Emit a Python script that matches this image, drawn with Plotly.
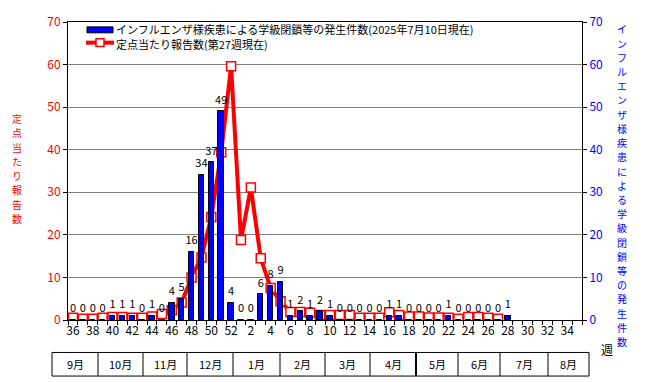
import plotly.graph_objects as go

# ---- data ----
weeks = [str(w) for w in list(range(36, 53)) + list(range(1, 36))]
closures = [0, 0, 0, 0, 1, 1, 1, 0, 1, 0, 4, 5, 16, 34, 37, 49, 4,
            0, 0, 6, 8, 9, 1, 2, 1, 2, 1, 0, 0, 0, 0, 0, 1, 1, 0, 0, 0, 0,
            1, 0, 0, 0, 0, 0, 1,
            None, None, None, None, None, None, None]
per_sentinel = [0.5, 0.3, 0.3, 0.5, 0.7, 0.7, 0.5, 0.5, 0.8, 1.4, 2.3, 4.1, 10.0,
                14.7, 24.2, 39.4, 59.6,
                18.8, 31.1, 14.5, 7.5, 4.4, 1.9, 1.9, 1.7, 1.2, 1.2, 1.2, 1.2,
                0.55, 0.55, 0.55, 1.8, 1.2, 0.8, 0.8, 0.6, 0.6, 0.55, 0.3, 0.7,
                0.7, 0.5, 0.3,
                None, None, None, None, None, None, None, None]
months = ["9月", "10月", "11月", "12月", "1月", "2月", "3月", "4月",
          "5月", "6月", "7月", "8月"]
bar_name = "インフルエンザ様疾患による学級閉鎖等の発生件数(2025年7月10日現在)"
line_name = "定点当たり報告数(第27週現在)"
left_title = "定点当たり報告数"
right_title = "インフルエンザ様疾患による学級閉鎖等の発生件数"

FONT = "Noto Sans CJK JP"
W, H = 647, 382
L, R, T, B = 68, 582, 17, 320  # plot area in px

def xp(px):
    return (px - L) / (R - L)

def yp(py):
    return (B - py) / (B - T)

idx = list(range(len(weeks)))

fig = go.Figure()
fig.add_trace(go.Bar(
    x=idx, y=closures, yaxis="y2", width=0.55,
    marker=dict(color="#0000FF", line=dict(color="black", width=1)),
    showlegend=False, hoverinfo="skip"))
fig.add_trace(go.Scatter(
    x=idx, y=per_sentinel, yaxis="y", mode="lines+markers",
    line=dict(color="#FF0000", width=4),
    marker=dict(symbol="square", size=9, color="white",
                line=dict(color="#FF0000", width=1.5)),
    showlegend=False, hoverinfo="skip"))
lab_x = [i for i, v in zip(idx, closures) if v is not None]
lab_v = [v for v in closures if v is not None]
fig.add_trace(go.Scatter(
    x=lab_x, y=[v + 1.2 for v in lab_v], yaxis="y2", mode="text",
    text=[str(v) for v in lab_v], textposition="top center",
    textfont=dict(family=FONT, size=11, color="black"),
    showlegend=False, hoverinfo="skip", cliponaxis=False))

shapes = []
annotations = []

# legend (manual)
shapes.append(dict(type="rect", xref="paper", yref="paper",
                   x0=xp(87), x1=xp(113), y0=yp(28), y1=yp(22),
                   fillcolor="#0000FF", line=dict(color="black", width=1)))
shapes.append(dict(type="line", xref="paper", yref="paper",
                   x0=xp(86), x1=xp(114), y0=yp(38), y1=yp(38),
                   line=dict(color="#FF0000", width=4)))
shapes.append(dict(type="rect", xref="paper", yref="paper",
                   x0=xp(96), x1=xp(104), y0=yp(42), y1=yp(34),
                   fillcolor="white", line=dict(color="#FF0000", width=1.5)))
annotations.append(dict(text=bar_name, xref="paper", yref="paper",
                        x=xp(115), y=yp(24), xanchor="left", yanchor="middle",
                        showarrow=False, borderpad=0,
                        font=dict(family=FONT, size=11, color="black")))
annotations.append(dict(text=line_name, xref="paper", yref="paper",
                        x=xp(115), y=yp(39.5), xanchor="left", yanchor="middle",
                        showarrow=False, borderpad=0,
                        font=dict(family=FONT, size=11, color="black")))

# axis titles (vertical, one character per annotation)
def vertical(text, cx, cy, step, color):
    n = len(text)
    for k, ch in enumerate(text):
        annotations.append(dict(text=ch, xref="paper", yref="paper",
                                x=xp(cx), y=yp(cy + (k - (n - 1) / 2) * step),
                                xanchor="center", yanchor="middle",
                                showarrow=False, borderpad=0,
                                font=dict(family=FONT, size=10, color=color)))

vertical(left_title, 17, 166, 14.5, "#FF0000")
vertical(right_title, 622, 183, 14.45, "#0000FF")

annotations.append(dict(text="週", xref="paper", yref="paper",
                        x=xp(607), y=yp(350), xanchor="center", yanchor="middle",
                        showarrow=False, font=dict(family=FONT, size=12, color="black")))

# month table
month_edges_px = [52, 98, 143, 187, 233, 280, 325, 370, 416, 458, 500, 548, 589]
ty0, ty1 = 353, 377
shapes.append(dict(type="rect", xref="paper", yref="paper",
                   x0=xp(month_edges_px[0]), x1=xp(month_edges_px[-1]),
                   y0=yp(ty1), y1=yp(ty0), line=dict(color="black", width=1)))
for k, e in enumerate(month_edges_px[1:-1]):
    shapes.append(dict(type="line", xref="paper", yref="paper",
                       x0=xp(e), x1=xp(e), y0=yp(ty1), y1=yp(ty0),
                       line=dict(color="black", width=2 if months[k + 1] == "5月" else 1)))
for k, m in enumerate(months):
    cx = (month_edges_px[k] + month_edges_px[k + 1]) / 2
    annotations.append(dict(text=m, xref="paper", yref="paper",
                            x=xp(cx), y=yp((ty0 + ty1) / 2), xanchor="center",
                            yanchor="middle", showarrow=False,
                            font=dict(family=FONT, size=11, color="black")))

fig.update_layout(
    width=W, height=H,
    margin=dict(l=L, r=W - R, t=T, b=H - B),
    plot_bgcolor="white", paper_bgcolor="white",
    bargap=0, showlegend=False,
    xaxis=dict(range=[-0.5, len(weeks) - 0.5], tickmode="array",
               tickvals=idx[::2], ticktext=weeks[::2], ticks="",
               showgrid=False, zeroline=False,
               showline=True, linecolor="black", linewidth=1, mirror=True,
               tickfont=dict(family=FONT, size=12, color="black"),
               minor=dict(tickmode="linear", tick0=-0.5, dtick=1, ticks="outside",
                          ticklen=4, tickcolor="black", showgrid=False)),
    yaxis=dict(range=[0, 70], dtick=10, tickmode="linear",
               showgrid=True, gridcolor="#808080", gridwidth=1,
               zeroline=False, showline=True, linecolor="black", linewidth=1,
               ticks="outside", ticklen=4, tickcolor="black",
               tickfont=dict(family=FONT, size=12, color="#FF0000")),
    yaxis2=dict(range=[0, 70], dtick=10, tickmode="linear", overlaying="y",
                side="right", showgrid=False, zeroline=False,
                showline=True, linecolor="black", linewidth=1,
                ticks="outside", ticklen=4, tickcolor="black",
                tickfont=dict(family=FONT, size=12, color="#0000FF")),
    shapes=shapes, annotations=annotations,
)

fig.write_html("out.html", config={"displayModeBar": False},
               post_script="document.body.style.margin='0';"
                           "document.body.style.overflow='hidden';")
